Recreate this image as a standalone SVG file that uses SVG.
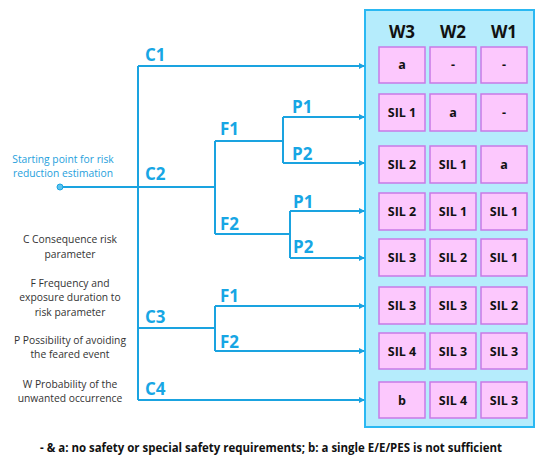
<svg xmlns="http://www.w3.org/2000/svg" width="535" height="456" viewBox="0 0 535 456">
<style>
.ln{fill:none;stroke:#1aa3e0;stroke-width:2}
.ar{fill:none;stroke:#1aa3e0;stroke-width:2;marker-end:url(#ah)}
.lbl{font-family:"Open Sans","Liberation Sans",sans-serif;font-weight:bold;font-size:17px;fill:#17a6e4}
.hd{font-family:"Open Sans","Liberation Sans",sans-serif;font-weight:bold;font-size:17px;fill:#111;text-anchor:middle}
.cell rect{fill:#fcc8fd;stroke:#c77ae6;stroke-width:1.5}
.cell text{font-family:"Open Sans","Liberation Sans",sans-serif;font-weight:bold;font-size:12.5px;fill:#111;text-anchor:middle}
.leg{font-family:"Open Sans","Liberation Sans",sans-serif;font-size:10.3px;fill:#333;text-anchor:middle}
.st{font-family:"Open Sans","Liberation Sans",sans-serif;font-size:10.3px;fill:#1ea0dc;text-anchor:middle}
</style>
<defs>
<marker id="ah" markerWidth="6" markerHeight="6" refX="5" refY="3" orient="auto" markerUnits="userSpaceOnUse">
<path d="M0,0 L6,3 L0,6 Z" fill="#1aa3e0"/>
</marker>
</defs>
<rect width="535" height="456" fill="#fff"/>
<g id="panel">
<rect x="365" y="10" width="169" height="417" fill="#b5ecfc" stroke="#2ab8f2" stroke-width="2"/>
<text class="hd" x="402" y="38">W3</text>
<text class="hd" x="453" y="38">W2</text>
<text class="hd" x="504" y="38">W1</text>
</g>
<g id="row1" class="cell">
<rect x="379" y="47" width="46" height="36"/><text x="402" y="69">a</text>
<rect x="430" y="47" width="46" height="36"/><text x="453" y="69">-</text>
<rect x="481" y="47" width="46" height="36"/><text x="504" y="69">-</text>
</g>
<g id="row2" class="cell">
<rect x="379" y="94" width="46" height="37"/><text x="402" y="117">SIL 1</text>
<rect x="430" y="94" width="46" height="37"/><text x="453" y="117">a</text>
<rect x="481" y="94" width="46" height="37"/><text x="504" y="117">-</text>
</g>
<g id="row3" class="cell">
<rect x="379" y="146" width="46" height="37"/><text x="402" y="169">SIL 2</text>
<rect x="430" y="146" width="46" height="37"/><text x="453" y="169">SIL 1</text>
<rect x="481" y="146" width="46" height="37"/><text x="504" y="169">a</text>
</g>
<g id="row4" class="cell">
<rect x="379" y="193" width="46" height="37"/><text x="402" y="216">SIL 2</text>
<rect x="430" y="193" width="46" height="37"/><text x="453" y="216">SIL 1</text>
<rect x="481" y="193" width="46" height="37"/><text x="504" y="216">SIL 1</text>
</g>
<g id="row5" class="cell">
<rect x="379" y="239" width="46" height="37"/><text x="402" y="262">SIL 3</text>
<rect x="430" y="239" width="46" height="37"/><text x="453" y="262">SIL 2</text>
<rect x="481" y="239" width="46" height="37"/><text x="504" y="262">SIL 1</text>
</g>
<g id="row6" class="cell">
<rect x="379" y="287" width="46" height="37"/><text x="402" y="310">SIL 3</text>
<rect x="430" y="287" width="46" height="37"/><text x="453" y="310">SIL 3</text>
<rect x="481" y="287" width="46" height="37"/><text x="504" y="310">SIL 2</text>
</g>
<g id="row7" class="cell">
<rect x="379" y="333" width="46" height="36"/><text x="402" y="356">SIL 4</text>
<rect x="430" y="333" width="46" height="36"/><text x="453" y="356">SIL 3</text>
<rect x="481" y="333" width="46" height="36"/><text x="504" y="356">SIL 3</text>
</g>
<g id="row8" class="cell">
<rect x="379" y="382" width="46" height="36"/><text x="402" y="405">b</text>
<rect x="430" y="382" width="46" height="36"/><text x="453" y="405">SIL 4</text>
<rect x="481" y="382" width="46" height="36"/><text x="504" y="405">SIL 3</text>
</g>
<g id="connectors">
<path class="ln" d="M60,187 H215"/>
<path class="ln" d="M138,66 V400"/>
<path class="ar" d="M138,66 H364"/>
<path class="ln" d="M215,141 V234"/>
<path class="ln" d="M215,141 H283"/>
<path class="ln" d="M283,117 V163"/>
<path class="ar" d="M283,117 H364"/>
<path class="ar" d="M283,163 H364"/>
<path class="ln" d="M215,234 H290"/>
<path class="ln" d="M290,211 V258"/>
<path class="ar" d="M290,211 H364"/>
<path class="ar" d="M290,258 H364"/>
<path class="ln" d="M138,328 H215"/>
<path class="ln" d="M215,306 V351"/>
<path class="ar" d="M215,306 H364"/>
<path class="ar" d="M215,351 H364"/>
<path class="ar" d="M138,400 H364"/>
<circle cx="60" cy="187" r="3" fill="#5cc3ef" stroke="#1aa3e0" stroke-width="1"/>
</g>
<g id="labels">
<text class="lbl" x="145" y="61">C1</text>
<text class="lbl" x="145" y="180">C2</text>
<text class="lbl" x="145" y="323">C3</text>
<text class="lbl" x="145" y="395">C4</text>
<text class="lbl" x="220" y="135">F1</text>
<text class="lbl" x="220" y="230">F2</text>
<text class="lbl" x="220" y="302">F1</text>
<text class="lbl" x="220" y="348">F2</text>
<text class="lbl" x="292" y="113">P1</text>
<text class="lbl" x="292" y="160">P2</text>
<text class="lbl" x="293" y="208">P1</text>
<text class="lbl" x="293" y="253">P2</text>
</g>
<g id="start">
<text class="st" x="63" y="163">Starting point for risk</text>
<text class="st" x="63" y="177">reduction estimation</text>
</g>
<g id="legend">
<text class="leg" x="70" y="243">C Consequence risk</text>
<text class="leg" x="70" y="258">parameter</text>
<text class="leg" x="70" y="287">F Frequency and</text>
<text class="leg" x="70" y="301">exposure duration to</text>
<text class="leg" x="70" y="316">risk parameter</text>
<text class="leg" x="70" y="344">P Possibility of avoiding</text>
<text class="leg" x="70" y="358">the feared event</text>
<text class="leg" x="70" y="388">W Probability of the</text>
<text class="leg" x="70" y="402">unwanted occurrence</text>
</g>
<text x="271" y="452" text-anchor="middle" font-family="'Open Sans','Liberation Sans',sans-serif" font-weight="bold" font-size="11.5" fill="#111" textLength="462" lengthAdjust="spacingAndGlyphs">- &amp; a: no safety or special safety requirements; b: a single E/E/PES is not sufficient</text>
</svg>
